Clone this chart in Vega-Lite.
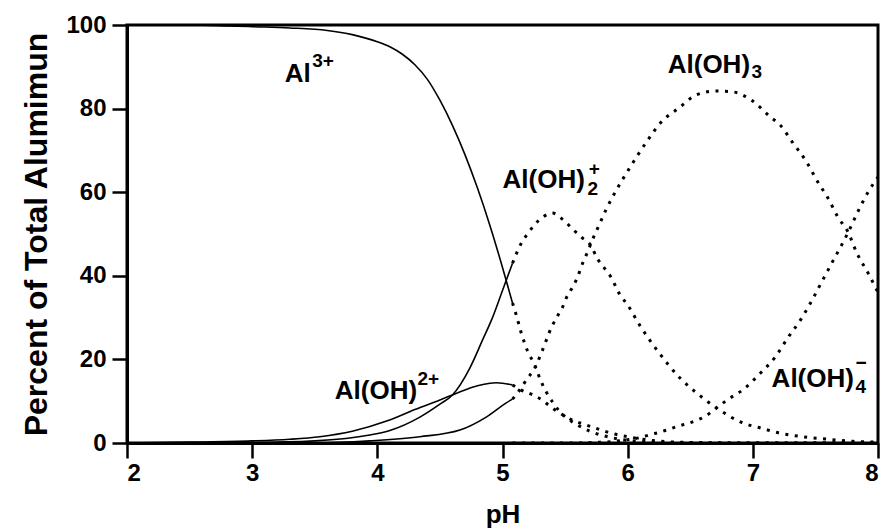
{
  "$schema": "https://vega.github.io/schema/vega-lite/v6.json",
  "autosize": "none",
  "width": 751,
  "height": 418,
  "padding": {"left": 127, "top": 25, "right": 7, "bottom": 87},
  "background": "white",
  "datasets": {
    "species": [
      {"species": "Al3+", "pH": 2.0, "pct": 100},
      {"species": "Al3+", "pH": 2.5, "pct": 100},
      {"species": "Al3+", "pH": 2.8, "pct": 99.8},
      {"species": "Al3+", "pH": 3.0, "pct": 99.6},
      {"species": "Al3+", "pH": 3.3, "pct": 99.3},
      {"species": "Al3+", "pH": 3.6, "pct": 98.7},
      {"species": "Al3+", "pH": 3.8, "pct": 97.7},
      {"species": "Al3+", "pH": 4.0, "pct": 96},
      {"species": "Al3+", "pH": 4.1, "pct": 94.8},
      {"species": "Al3+", "pH": 4.2, "pct": 93},
      {"species": "Al3+", "pH": 4.3, "pct": 90.5},
      {"species": "Al3+", "pH": 4.4, "pct": 87},
      {"species": "Al3+", "pH": 4.5, "pct": 82},
      {"species": "Al3+", "pH": 4.6, "pct": 76},
      {"species": "Al3+", "pH": 4.7, "pct": 69},
      {"species": "Al3+", "pH": 4.8, "pct": 61},
      {"species": "Al3+", "pH": 4.9, "pct": 52},
      {"species": "Al3+", "pH": 5.0, "pct": 42},
      {"species": "Al3+", "pH": 5.08, "pct": 33.5},
      {"species": "Al3+", "pH": 5.11, "pct": 30.6},
      {"species": "Al3+", "pH": 5.15, "pct": 26.3},
      {"species": "Al3+", "pH": 5.2, "pct": 22},
      {"species": "Al3+", "pH": 5.26, "pct": 18.5},
      {"species": "Al3+", "pH": 5.3, "pct": 15.3},
      {"species": "Al3+", "pH": 5.35, "pct": 12.2},
      {"species": "Al3+", "pH": 5.4, "pct": 9.8},
      {"species": "Al3+", "pH": 5.45, "pct": 7.8},
      {"species": "Al3+", "pH": 5.5, "pct": 6.3},
      {"species": "Al3+", "pH": 5.6, "pct": 4.3},
      {"species": "Al3+", "pH": 5.7, "pct": 2.8},
      {"species": "Al3+", "pH": 5.8, "pct": 1.8},
      {"species": "Al3+", "pH": 5.9, "pct": 1.1},
      {"species": "Al3+", "pH": 6.0, "pct": 0.6},
      {"species": "Al3+", "pH": 6.2, "pct": 0.2},
      {"species": "Al3+", "pH": 6.5, "pct": 0.05},
      {"species": "Al3+", "pH": 7.0, "pct": 0},
      {"species": "Al3+", "pH": 7.5, "pct": 0},
      {"species": "Al3+", "pH": 8.0, "pct": 0},

      {"species": "Al(OH)2+", "pH": 2.0, "pct": 0},
      {"species": "Al(OH)2+", "pH": 2.5, "pct": 0.2},
      {"species": "Al(OH)2+", "pH": 3.0, "pct": 0.5},
      {"species": "Al(OH)2+", "pH": 3.3, "pct": 0.9},
      {"species": "Al(OH)2+", "pH": 3.54, "pct": 1.5},
      {"species": "Al(OH)2+", "pH": 3.8, "pct": 2.8},
      {"species": "Al(OH)2+", "pH": 4.08, "pct": 5.3},
      {"species": "Al(OH)2+", "pH": 4.3, "pct": 8},
      {"species": "Al(OH)2+", "pH": 4.5, "pct": 10.3},
      {"species": "Al(OH)2+", "pH": 4.6, "pct": 11.5},
      {"species": "Al(OH)2+", "pH": 4.7, "pct": 12.7},
      {"species": "Al(OH)2+", "pH": 4.8, "pct": 13.7},
      {"species": "Al(OH)2+", "pH": 4.9, "pct": 14.3},
      {"species": "Al(OH)2+", "pH": 4.95, "pct": 14.4},
      {"species": "Al(OH)2+", "pH": 5.0, "pct": 14.3},
      {"species": "Al(OH)2+", "pH": 5.08, "pct": 13.9},
      {"species": "Al(OH)2+", "pH": 5.14, "pct": 12.8},
      {"species": "Al(OH)2+", "pH": 5.23, "pct": 11.7},
      {"species": "Al(OH)2+", "pH": 5.3, "pct": 10.6},
      {"species": "Al(OH)2+", "pH": 5.38, "pct": 8.8},
      {"species": "Al(OH)2+", "pH": 5.45, "pct": 7.3},
      {"species": "Al(OH)2+", "pH": 5.55, "pct": 5.6},
      {"species": "Al(OH)2+", "pH": 5.67, "pct": 4.3},
      {"species": "Al(OH)2+", "pH": 5.75, "pct": 3.5},
      {"species": "Al(OH)2+", "pH": 5.85, "pct": 2.5},
      {"species": "Al(OH)2+", "pH": 6.0, "pct": 1.5},
      {"species": "Al(OH)2+", "pH": 6.1, "pct": 1.0},
      {"species": "Al(OH)2+", "pH": 6.2, "pct": 0.6},
      {"species": "Al(OH)2+", "pH": 6.4, "pct": 0.2},
      {"species": "Al(OH)2+", "pH": 6.7, "pct": 0.05},
      {"species": "Al(OH)2+", "pH": 7.0, "pct": 0},
      {"species": "Al(OH)2+", "pH": 8.0, "pct": 0},

      {"species": "Al(OH)2 +", "pH": 2.0, "pct": 0},
      {"species": "Al(OH)2 +", "pH": 3.0, "pct": 0.1},
      {"species": "Al(OH)2 +", "pH": 3.5, "pct": 0.5},
      {"species": "Al(OH)2 +", "pH": 3.94, "pct": 1.9},
      {"species": "Al(OH)2 +", "pH": 4.1, "pct": 3},
      {"species": "Al(OH)2 +", "pH": 4.34, "pct": 6.2},
      {"species": "Al(OH)2 +", "pH": 4.5, "pct": 9.3},
      {"species": "Al(OH)2 +", "pH": 4.6, "pct": 11.5},
      {"species": "Al(OH)2 +", "pH": 4.74, "pct": 18},
      {"species": "Al(OH)2 +", "pH": 4.84, "pct": 24.6},
      {"species": "Al(OH)2 +", "pH": 4.92, "pct": 30},
      {"species": "Al(OH)2 +", "pH": 5.0, "pct": 36.5},
      {"species": "Al(OH)2 +", "pH": 5.08, "pct": 43},
      {"species": "Al(OH)2 +", "pH": 5.15, "pct": 47.8},
      {"species": "Al(OH)2 +", "pH": 5.2, "pct": 50},
      {"species": "Al(OH)2 +", "pH": 5.25, "pct": 52},
      {"species": "Al(OH)2 +", "pH": 5.32, "pct": 54},
      {"species": "Al(OH)2 +", "pH": 5.4, "pct": 55},
      {"species": "Al(OH)2 +", "pH": 5.48, "pct": 53.5},
      {"species": "Al(OH)2 +", "pH": 5.56, "pct": 51.2},
      {"species": "Al(OH)2 +", "pH": 5.64, "pct": 49},
      {"species": "Al(OH)2 +", "pH": 5.7, "pct": 47.5},
      {"species": "Al(OH)2 +", "pH": 5.76, "pct": 44},
      {"species": "Al(OH)2 +", "pH": 5.81, "pct": 42},
      {"species": "Al(OH)2 +", "pH": 5.86, "pct": 40},
      {"species": "Al(OH)2 +", "pH": 5.94, "pct": 35.4},
      {"species": "Al(OH)2 +", "pH": 6.0, "pct": 33},
      {"species": "Al(OH)2 +", "pH": 6.1, "pct": 28},
      {"species": "Al(OH)2 +", "pH": 6.24, "pct": 22},
      {"species": "Al(OH)2 +", "pH": 6.42, "pct": 15.5},
      {"species": "Al(OH)2 +", "pH": 6.55, "pct": 12},
      {"species": "Al(OH)2 +", "pH": 6.71, "pct": 8.4},
      {"species": "Al(OH)2 +", "pH": 6.92, "pct": 4.8},
      {"species": "Al(OH)2 +", "pH": 7.06, "pct": 3.6},
      {"species": "Al(OH)2 +", "pH": 7.21, "pct": 2.4},
      {"species": "Al(OH)2 +", "pH": 7.4, "pct": 1.5},
      {"species": "Al(OH)2 +", "pH": 7.6, "pct": 0.9},
      {"species": "Al(OH)2 +", "pH": 7.8, "pct": 0.4},
      {"species": "Al(OH)2 +", "pH": 8.0, "pct": 0.2},

      {"species": "Al(OH)3", "pH": 2.0, "pct": 0},
      {"species": "Al(OH)3", "pH": 3.5, "pct": 0},
      {"species": "Al(OH)3", "pH": 3.94, "pct": 0.5},
      {"species": "Al(OH)3", "pH": 4.34, "pct": 1.5},
      {"species": "Al(OH)3", "pH": 4.66, "pct": 3.1},
      {"species": "Al(OH)3", "pH": 4.87, "pct": 6.2},
      {"species": "Al(OH)3", "pH": 5.03, "pct": 9.6},
      {"species": "Al(OH)3", "pH": 5.08, "pct": 10.5},
      {"species": "Al(OH)3", "pH": 5.14, "pct": 12.8},
      {"species": "Al(OH)3", "pH": 5.2, "pct": 15.5},
      {"species": "Al(OH)3", "pH": 5.25, "pct": 17.5},
      {"species": "Al(OH)3", "pH": 5.31, "pct": 21.5},
      {"species": "Al(OH)3", "pH": 5.34, "pct": 23.8},
      {"species": "Al(OH)3", "pH": 5.37, "pct": 26.2},
      {"species": "Al(OH)3", "pH": 5.4, "pct": 28.2},
      {"species": "Al(OH)3", "pH": 5.44, "pct": 30.4},
      {"species": "Al(OH)3", "pH": 5.48, "pct": 32.5},
      {"species": "Al(OH)3", "pH": 5.51, "pct": 34.7},
      {"species": "Al(OH)3", "pH": 5.55, "pct": 36.8},
      {"species": "Al(OH)3", "pH": 5.59, "pct": 39},
      {"species": "Al(OH)3", "pH": 5.64, "pct": 43},
      {"species": "Al(OH)3", "pH": 5.68, "pct": 45.7},
      {"species": "Al(OH)3", "pH": 5.71, "pct": 48},
      {"species": "Al(OH)3", "pH": 5.77, "pct": 52},
      {"species": "Al(OH)3", "pH": 5.83, "pct": 56},
      {"species": "Al(OH)3", "pH": 5.88, "pct": 58.9},
      {"species": "Al(OH)3", "pH": 6.02, "pct": 66},
      {"species": "Al(OH)3", "pH": 6.15, "pct": 72},
      {"species": "Al(OH)3", "pH": 6.26, "pct": 76.5},
      {"species": "Al(OH)3", "pH": 6.42, "pct": 80.4},
      {"species": "Al(OH)3", "pH": 6.55, "pct": 83.3},
      {"species": "Al(OH)3", "pH": 6.71, "pct": 84.2},
      {"species": "Al(OH)3", "pH": 6.84, "pct": 84},
      {"species": "Al(OH)3", "pH": 6.99, "pct": 82},
      {"species": "Al(OH)3", "pH": 7.14, "pct": 78},
      {"species": "Al(OH)3", "pH": 7.22, "pct": 76},
      {"species": "Al(OH)3", "pH": 7.32, "pct": 71.8},
      {"species": "Al(OH)3", "pH": 7.43, "pct": 67.2},
      {"species": "Al(OH)3", "pH": 7.52, "pct": 62.4},
      {"species": "Al(OH)3", "pH": 7.6, "pct": 58.6},
      {"species": "Al(OH)3", "pH": 7.68, "pct": 54},
      {"species": "Al(OH)3", "pH": 7.76, "pct": 50.5},
      {"species": "Al(OH)3", "pH": 7.83, "pct": 45.5},
      {"species": "Al(OH)3", "pH": 7.92, "pct": 40.7},
      {"species": "Al(OH)3", "pH": 8.0, "pct": 36},

      {"species": "Al(OH)4-", "pH": 5.08, "pct": 0},
      {"species": "Al(OH)4-", "pH": 5.5, "pct": 0},
      {"species": "Al(OH)4-", "pH": 5.8, "pct": 0.2},
      {"species": "Al(OH)4-", "pH": 6.0, "pct": 0.8},
      {"species": "Al(OH)4-", "pH": 6.1, "pct": 1.3},
      {"species": "Al(OH)4-", "pH": 6.18, "pct": 2.0},
      {"species": "Al(OH)4-", "pH": 6.26, "pct": 2.6},
      {"species": "Al(OH)4-", "pH": 6.32, "pct": 3.2},
      {"species": "Al(OH)4-", "pH": 6.4, "pct": 4},
      {"species": "Al(OH)4-", "pH": 6.47, "pct": 4.6},
      {"species": "Al(OH)4-", "pH": 6.55, "pct": 5.4},
      {"species": "Al(OH)4-", "pH": 6.62, "pct": 6.4},
      {"species": "Al(OH)4-", "pH": 6.71, "pct": 8.4},
      {"species": "Al(OH)4-", "pH": 6.8, "pct": 10.4},
      {"species": "Al(OH)4-", "pH": 6.92, "pct": 12.7},
      {"species": "Al(OH)4-", "pH": 7.06, "pct": 16.7},
      {"species": "Al(OH)4-", "pH": 7.18, "pct": 20.6},
      {"species": "Al(OH)4-", "pH": 7.28, "pct": 25.2},
      {"species": "Al(OH)4-", "pH": 7.38, "pct": 29.4},
      {"species": "Al(OH)4-", "pH": 7.47, "pct": 34},
      {"species": "Al(OH)4-", "pH": 7.55, "pct": 38.5},
      {"species": "Al(OH)4-", "pH": 7.63, "pct": 43},
      {"species": "Al(OH)4-", "pH": 7.71, "pct": 47.4},
      {"species": "Al(OH)4-", "pH": 7.76, "pct": 50.3},
      {"species": "Al(OH)4-", "pH": 7.85, "pct": 56},
      {"species": "Al(OH)4-", "pH": 7.93, "pct": 60.5},
      {"species": "Al(OH)4-", "pH": 8.0, "pct": 63.6}
    ],
    "names": [
      {"text": "Al", "pH": 3.26, "pct": 86.4},
      {"text": "Al(OH)", "pH": 3.66, "pct": 10.5},
      {"text": "Al(OH)", "pH": 5.0, "pct": 61},
      {"text": "Al(OH)", "pH": 6.32, "pct": 88.5},
      {"text": "Al(OH)", "pH": 7.15, "pct": 13.4}
    ],
    "scripts": [
      {"text": "3+", "pH": 3.48, "pct": 90},
      {"text": "2+", "pH": 4.32, "pct": 13.8},
      {"text": "2", "pH": 5.68, "pct": 59.3},
      {"text": "+", "pH": 5.69, "pct": 64.2},
      {"text": "3", "pH": 6.99, "pct": 87.3},
      {"text": "4", "pH": 7.82, "pct": 12},
      {"text": "−", "pH": 7.82, "pct": 17.7}
    ]
  },
  "encoding": {
    "x": {
      "field": "pH",
      "type": "quantitative",
      "scale": {"domain": [2, 8], "nice": false, "zero": false},
      "axis": {"values": [2, 3, 4, 5, 6, 7, 8], "format": "d", "title": "pH", "titleFontSize": 26, "titlePadding": 16, "labelPadding": 3}
    },
    "y": {
      "field": "pct",
      "type": "quantitative",
      "scale": {"domain": [0, 100], "nice": false},
      "axis": {"values": [0, 20, 40, 60, 80, 100], "title": "Percent of Total Alumimun", "titleFontSize": 32, "titlePadding": 12, "labelPadding": 6}
    }
  },
  "layer": [
    {
      "data": {"name": "species"},
      "transform": [{"filter": "datum.pH <= 5.08"}],
      "mark": {"type": "line", "color": "black", "strokeWidth": 1.6, "interpolate": "monotone"},
      "encoding": {"detail": {"field": "species"}}
    },
    {
      "data": {"name": "species"},
      "transform": [{"filter": "datum.pH >= 5.08"}],
      "mark": {"type": "line", "color": "black", "strokeWidth": 3, "strokeDash": [3, 6.5], "interpolate": "monotone"},
      "encoding": {"detail": {"field": "species"}}
    },
    {
      "data": {"name": "names"},
      "mark": {"type": "text", "align": "left", "baseline": "alphabetic", "font": "Liberation Sans", "fontWeight": "bold", "fontSize": 26, "color": "black"},
      "encoding": {"text": {"field": "text"}}
    },
    {
      "data": {"name": "scripts"},
      "mark": {"type": "text", "align": "left", "baseline": "alphabetic", "font": "Liberation Sans", "fontWeight": "bold", "fontSize": 19, "color": "black"},
      "encoding": {"text": {"field": "text"}}
    }
  ],
  "config": {
    "view": {"stroke": "black", "strokeWidth": 3},
    "axis": {
      "grid": false,
      "domainColor": "black",
      "domainWidth": 3,
      "tickColor": "black",
      "tickWidth": 2.5,
      "tickSize": 15,
      "labelFont": "Liberation Sans",
      "labelFontWeight": "bold",
      "labelFontSize": 24,
      "labelColor": "black",
      "titleFont": "Liberation Sans",
      "titleFontWeight": "bold",
      "titleColor": "black"
    }
  }
}
